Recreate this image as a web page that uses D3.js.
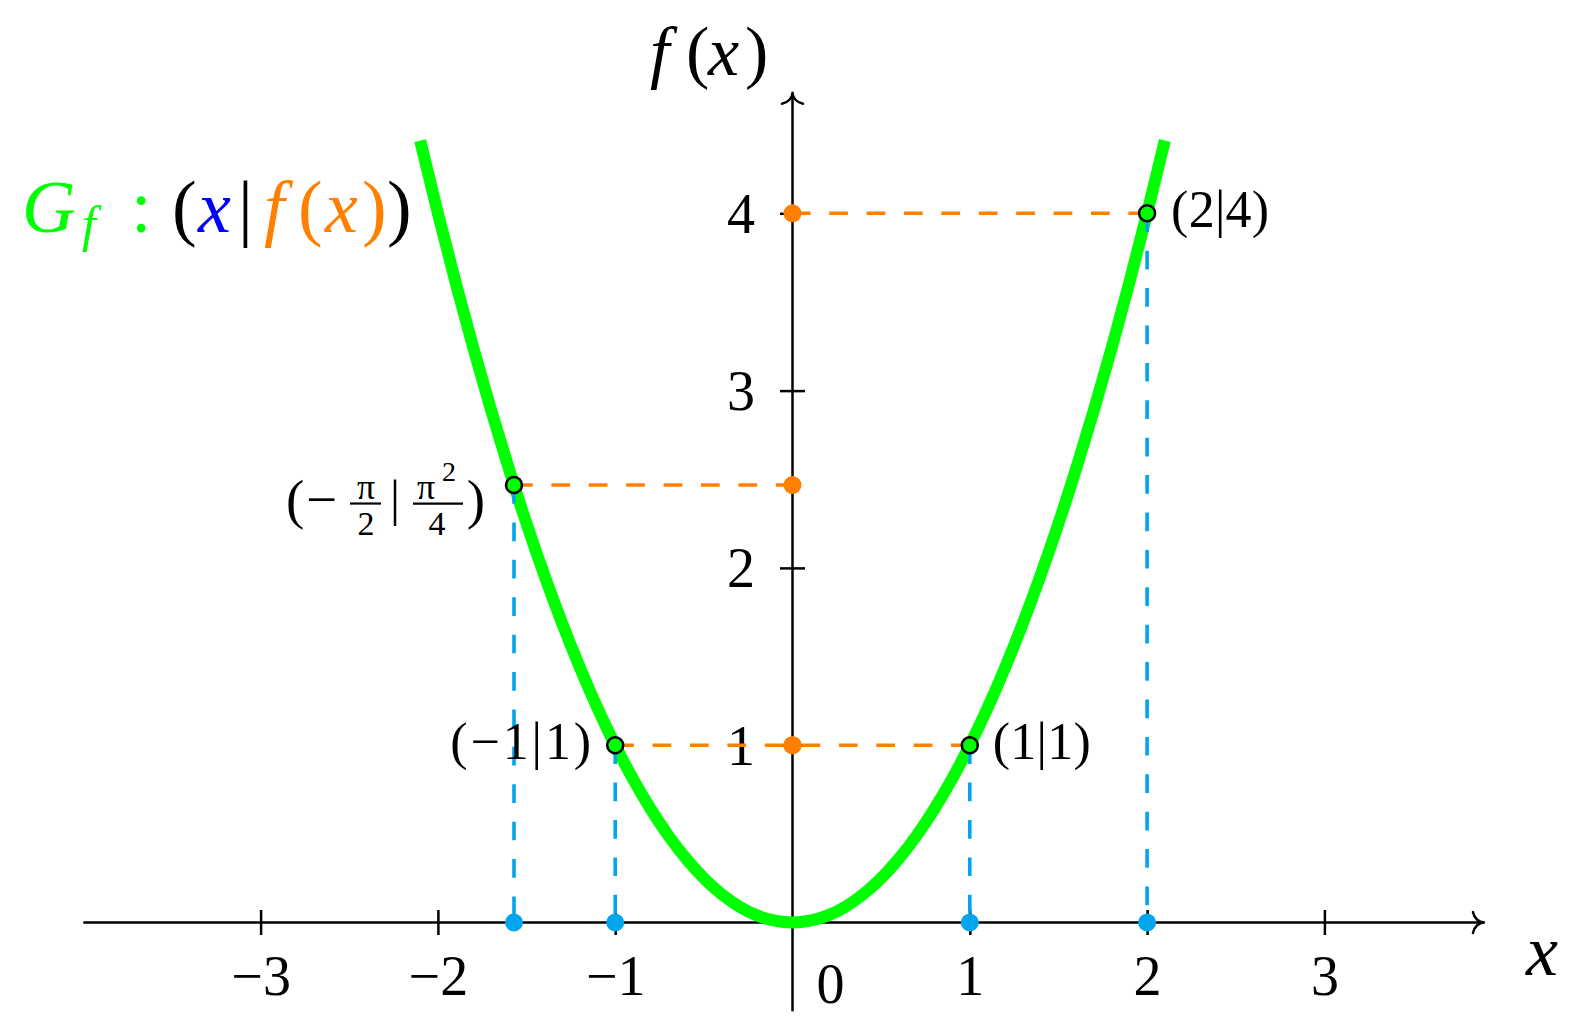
<!DOCTYPE html>
<html><head><meta charset="utf-8">
<script src="https://cdn.jsdelivr.net/npm/d3@7"></script>
<style>
html,body{margin:0;padding:0;background:#fff;}
svg{display:block;}
text{font-family:"Liberation Serif","Times New Roman",serif;}
</style></head><body>
<svg id="chart" width="1587" height="1026"></svg>
<script>
// ---------- data ----------
const curveX = [-2.1,-2.0,-1.9,-1.8,-1.7,-1.6,-1.5,-1.4,-1.3,-1.2,-1.1,-1.0,-0.9,-0.8,-0.7,-0.6,-0.5,-0.4,-0.3,-0.2,-0.1,0,
                0.1,0.2,0.3,0.4,0.5,0.6,0.7,0.8,0.9,1.0,1.1,1.2,1.3,1.4,1.5,1.6,1.7,1.8,1.9,2.0,2.1];
const curveY = [4.41,4.0,3.61,3.24,2.89,2.56,2.25,1.96,1.69,1.44,1.21,1.0,0.81,0.64,0.49,0.36,0.25,0.16,0.09,0.04,0.01,0,
                0.01,0.04,0.09,0.16,0.25,0.36,0.49,0.64,0.81,1.0,1.21,1.44,1.69,1.96,2.25,2.56,2.89,3.24,3.61,4.0,4.41];
const pointX = [-1.5708, -1, 1, 2];
const pointY = [2.4674, 1, 1, 4];
const pointLabels = ["", "(−1|1)", "(1|1)", "(2|4)"];
const xTicks = [-3, -2, -1, 1, 2, 3];
const xTickLabels = ["−3", "−2", "−1", "1", "2", "3"];
const yTicks = [1, 2, 3, 4];
const yTickLabels = ["1", "2", "3", "4"];
const xAxisExtent = [-4, 3.9];
const yAxisExtent = [-0.5, 4.68];

// ---------- layout ----------
const ox = 792.5, oy = 922.5, unit = 177.3;
const x = d3.scaleLinear().domain([-4, 3.9]).range([ox - 4 * unit, ox + 3.9 * unit]);
const y = d3.scaleLinear().domain([-0.5, 4.7]).range([oy + 0.5 * unit, oy - 4.7 * unit]);
const GREEN = "#00ff00", ORANGE = "#ff8000", CYAN = "#00a6ed", BLUE = "#0000ff";
const AW = 2.5;
const FONT = '"Liberation Serif","Times New Roman",serif';

const svg = d3.select("#chart");

// ---------- axes ----------
const axes = svg.append("g");
axes.append("line")
  .attr("x1", x(xAxisExtent[0])).attr("x2", x(xAxisExtent[1]) - 1.5)
  .attr("y1", y(0)).attr("y2", y(0))
  .attr("stroke", "#000").attr("stroke-width", AW);
axes.append("line")
  .attr("x1", x(0)).attr("x2", x(0))
  .attr("y1", y(yAxisExtent[0])).attr("y2", y(yAxisExtent[1]) + 1.5)
  .attr("stroke", "#000").attr("stroke-width", AW);
function arrow(tx, ty, ang) {
  axes.append("path")
    .attr("d", "M-11,-10.5 C-10,-4.5 -5,0 0,0 C-5,0 -10,4.5 -11,10.5")
    .attr("transform", `translate(${tx},${ty}) rotate(${ang})`)
    .attr("fill", "none").attr("stroke", "#000").attr("stroke-width", AW)
    .attr("stroke-linecap", "round").attr("stroke-linejoin", "round");
}
arrow(x(xAxisExtent[1]), y(0), 0);
arrow(x(0), y(yAxisExtent[1]), -90);

const gx = svg.append("g").attr("transform", `translate(0,${y(0)})`)
  .call(d3.axisBottom(x).tickValues(xTicks).tickFormat((d, i) => xTickLabels[i])
    .tickSizeInner(12.5).tickSizeOuter(0).tickPadding(0));
gx.select(".domain").remove();
gx.selectAll(".tick line").attr("y1", -12.5).attr("y2", 12.5)
  .attr("stroke", "#000").attr("stroke-width", AW);
gx.selectAll(".tick text").attr("y", 72.5).attr("dy", null).attr("fill", "#000")
  .style("font-size", "56px").style("font-family", FONT);

const gy = svg.append("g").attr("transform", `translate(${x(0)},0)`)
  .call(d3.axisLeft(y).tickValues(yTicks).tickFormat((d, i) => yTickLabels[i])
    .tickSizeInner(12.5).tickSizeOuter(0).tickPadding(0));
gy.select(".domain").remove();
gy.selectAll(".tick line").attr("x1", -12.5).attr("x2", 12.5)
  .attr("stroke", "#000").attr("stroke-width", AW);
gy.selectAll(".tick text").attr("x", -37.5).attr("dy", "0.34em").attr("fill", "#000")
  .style("font-size", "56px").style("font-family", FONT);

// origin label
svg.append("text").attr("x", x(0) + 38).attr("y", y(0) + 80.5)
  .attr("text-anchor", "middle").style("font-size", "56px").text("0");

// axis titles
svg.append("text").attr("x", 1526).attr("y", 975)
  .style("font-size", "72px").style("font-style", "italic").text("x");
const fx = svg.append("text").attr("y", 75).style("font-size", "70px");
fx.append("tspan").attr("x", 650).style("font-style", "italic").text("f");
fx.append("tspan").attr("x", 686).text("(");
fx.append("tspan").attr("x", 708).style("font-style", "italic").text("x");
fx.append("tspan").attr("x", 745).text(")");

// ---------- curve ----------
const line = d3.line().x((d, i) => x(curveX[i])).y((d, i) => y(curveY[i])).curve(d3.curveNatural);
svg.append("path").datum(curveX).attr("d", line)
  .attr("fill", "none").attr("stroke", GREEN).attr("stroke-width", 12);

// ---------- dashed helper lines ----------
const guides = svg.append("g").attr("fill", "none").attr("stroke-dasharray", "18.7,18.7");
guides.selectAll("line.v").data(pointX).join("line").attr("class", "v")
  .attr("x1", d => x(d)).attr("x2", d => x(d))
  .attr("y1", (d, i) => y(pointY[i])).attr("y2", y(0))
  .attr("stroke", CYAN).attr("stroke-width", 3.6);
guides.selectAll("line.h").data(pointX).join("line").attr("class", "h")
  .attr("x1", d => x(d)).attr("x2", x(0))
  .attr("y1", (d, i) => y(pointY[i])).attr("y2", (d, i) => y(pointY[i]))
  .attr("stroke", ORANGE).attr("stroke-width", 3.6);

// ---------- projected dots ----------
svg.append("g").selectAll("circle").data(pointX).join("circle")
  .attr("cx", d => x(d)).attr("cy", y(0)).attr("r", 9).attr("fill", CYAN);
svg.append("g").selectAll("circle").data(pointY).join("circle")
  .attr("cx", x(0)).attr("cy", d => y(d)).attr("r", 9).attr("fill", ORANGE);

// ---------- points on the graph ----------
svg.append("g").selectAll("circle").data(pointX).join("circle")
  .attr("cx", d => x(d)).attr("cy", (d, i) => y(pointY[i])).attr("r", 8)
  .attr("fill", GREEN).attr("stroke", "#000").attr("stroke-width", 2.5);

// ---------- point labels ----------
const labelSpec = [null,
  {anchor: "end", dx: -24, len: 141},
  {anchor: "start", dx: 23, len: 98},
  {anchor: "start", dx: 24, len: 98}];
svg.append("g").selectAll("text").data(pointX).join("text")
  .filter((d, i) => pointLabels[i] !== "")
  .attr("x", d => x(d) + labelSpec[pointX.indexOf(d)].dx)
  .attr("y", d => y(pointY[pointX.indexOf(d)]))
  .attr("dy", "0.27em")
  .attr("text-anchor", d => labelSpec[pointX.indexOf(d)].anchor)
  .attr("textLength", d => labelSpec[pointX.indexOf(d)].len)
  .attr("lengthAdjust", "spacing")
  .style("font-size", "52px")
  .text(d => pointLabels[pointX.indexOf(d)]);

// (−π/2 | π²/4) label, built from pieces relative to its point
{
  const px = x(pointX[0]), py = y(pointY[0]);
  const g = svg.append("g").attr("transform", `translate(${px},${py})`);
  const t = (tx, ty, s, str, opts = {}) => g.append("text").attr("x", tx).attr("y", ty)
    .attr("text-anchor", opts.anchor || "start").style("font-size", s + "px")
    .style("font-style", opts.italic ? "italic" : "normal").text(str);
  t(-228, 33, 55, "(");
  t(-208, 33, 55, "−");
  t(-148, 13.5, 36, "π", {anchor: "middle"});
  g.append("line").attr("x1", -164).attr("x2", -133).attr("y1", 18.5).attr("y2", 18.5)
    .attr("stroke", "#000").attr("stroke-width", 2.2);
  t(-148, 50, 34, "2", {anchor: "middle"});
  t(-119, 30, 50, "|", {anchor: "middle"});
  t(-88, 13.5, 36, "π", {anchor: "middle"});
  t(-72, -4, 28, "2");
  g.append("line").attr("x1", -101).attr("x2", -51).attr("y1", 18.5).attr("y2", 18.5)
    .attr("stroke", "#000").attr("stroke-width", 2.2);
  t(-77, 50, 34, "4", {anchor: "middle"});
  t(-29, 33, 55, ")", {anchor: "end"});
}

// ---------- legend ----------
{
  const lg = svg.append("text").attr("y", 232).style("font-size", "74px");
  lg.append("tspan").attr("x", 22).attr("fill", GREEN).style("font-style", "italic").text("G");
  lg.append("tspan").attr("x", 82).attr("y", 241).attr("fill", GREEN).style("font-style", "italic")
    .style("font-size", "50px").text("f");
  lg.append("tspan").attr("x", 131).attr("y", 232).attr("fill", GREEN).text(":");
  lg.append("tspan").attr("x", 172).attr("fill", "#000").text("(");
  lg.append("tspan").attr("x", 198).attr("fill", BLUE).style("font-style", "italic").text("x");
  lg.append("tspan").attr("x", 238).attr("fill", "#000").text("|");
  lg.append("tspan").attr("x", 264).attr("fill", ORANGE).style("font-style", "italic").text("f");
  lg.append("tspan").attr("x", 298).attr("fill", ORANGE).text("(");
  lg.append("tspan").attr("x", 325).attr("fill", ORANGE).style("font-style", "italic").text("x");
  lg.append("tspan").attr("x", 362).attr("fill", ORANGE).text(")");
  lg.append("tspan").attr("x", 387).attr("fill", "#000").text(")");
}
</script>
</body></html>
